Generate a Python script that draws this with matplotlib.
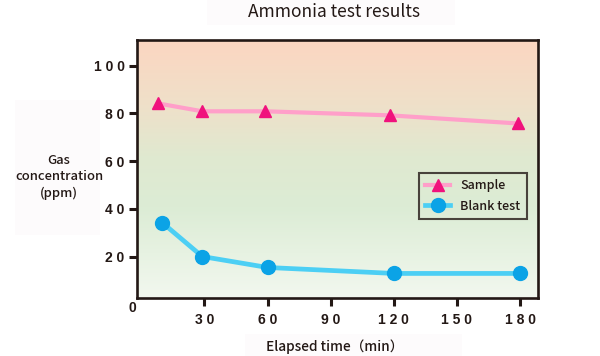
import matplotlib
matplotlib.use("Agg")
import matplotlib.pyplot as plt
import numpy as np
from matplotlib.colors import LinearSegmentedColormap
from matplotlib.patches import Rectangle

# Data
sample_time = [8, 29, 59, 118, 179]
sample_ppm = [84.2, 80.9, 80.9, 79.2, 75.8]
blank_time = [10, 29, 60, 120, 180]
blank_ppm = [34.2, 20.0, 15.4, 12.9, 12.9]
x_ticks = [30, 60, 90, 120, 150, 180]
y_ticks = [20, 40, 60, 80, 100]
series_labels = ["Sample", "Blank test"]
title = "Ammonia test results"
xlabel = "Elapsed time（min）"
ylabel = "Gas\nconcentration\n(ppm)"

dark = "#231815"
plt.rcParams['font.family'] = ['Noto Sans CJK JP', 'DejaVu Sans']

fig = plt.figure(figsize=(6.0, 3.56), dpi=100)
fig.patch.set_facecolor("white")

# faint background boxes behind texts
for (x0, y0, w, h) in [(207/600, 1-25/356, 248/600, 25/356),
                       (15/600, 1-235/356, 85/600, 135/356),
                       (245/600, 0, 217/600, 22/356)]:
    fig.patches.append(Rectangle((x0, y0), w, h, transform=fig.transFigure,
                                 facecolor="#fdfbfc", edgecolor="none", zorder=0))

ax = fig.add_axes([137/600, 1-298/356, 401/600, 258/356])
ax.set_xlim(-2, 188.5)
ax.set_ylim(2.6, 110.8)

# gradient background
cmap = LinearSegmentedColormap.from_list("bg", [
    (0.0, "#f2f8ef"), (0.35, "#dcecd5"), (0.55, "#e0e9d0"),
    (0.75, "#efe0c9"), (1.0, "#fcd6c1")])
grad = np.linspace(0, 1, 256).reshape(-1, 1)
ax.imshow(grad, aspect="auto", cmap=cmap, origin="lower",
          extent=[0, 1, 0, 1], transform=ax.transAxes, zorder=0)

ax.plot(sample_time, sample_ppm, color="#ff9fc9", lw=3.0, marker="^",
        ms=9, mfc="#f0127d", mec="#f0127d", label=series_labels[0], zorder=3)
ax.plot(blank_time, blank_ppm, color="#4ccff4", lw=3.4, marker="o",
        ms=10, mfc="#0ba3e6", mec="#0ba3e6", label=series_labels[1], zorder=3)

for s in ax.spines.values():
    s.set_linewidth(1.9)
    s.set_color(dark)

ax.set_xticks(x_ticks)
ax.set_xticklabels([" ".join(str(t)) for t in x_ticks])
ax.set_yticks(y_ticks)
ax.set_yticklabels([" ".join(str(t)) for t in y_ticks])
ax.tick_params(direction="out", length=6, width=2.2, color=dark, pad=3,
               labelcolor=dark)
for lab in ax.get_xticklabels() + ax.get_yticklabels():
    lab.set_fontfamily("Liberation Sans")
    lab.set_fontweight("bold")
    lab.set_fontsize(10)
ax.tick_params(axis="x", pad=5)

fig.text(132/600, 1-308/356, "0", ha="center", va="center",
         fontfamily="Liberation Sans", fontweight="bold", fontsize=10, color=dark)

fig.text(334/600, 1-12/356, title, ha="center", va="center", fontsize=12.5, color=dark)
fig.text(59/600, 1-177/356, ylabel, ha="center", va="center", fontsize=9.4,
         color=dark, linespacing=1.35, fontweight="medium")
fig.text(335/600, 1-347/356, xlabel, ha="center", va="center", fontsize=9.8,
         color=dark, fontweight="medium")

leg = ax.legend(loc="upper left", bbox_to_anchor=((419-137)/401, (298-173)/258),
                frameon=True, fancybox=False, handlelength=2.0,
                borderpad=0.5, labelspacing=0.6, handletextpad=0.8,
                borderaxespad=0, prop={'weight': 'medium', 'size': 9})
leg.get_frame().set_edgecolor(dark)
leg.get_frame().set_linewidth(1.5)
leg.get_frame().set_facecolor("none")
for t in leg.get_texts():
    t.set_color(dark)

fig.savefig("out.png", dpi=100)
